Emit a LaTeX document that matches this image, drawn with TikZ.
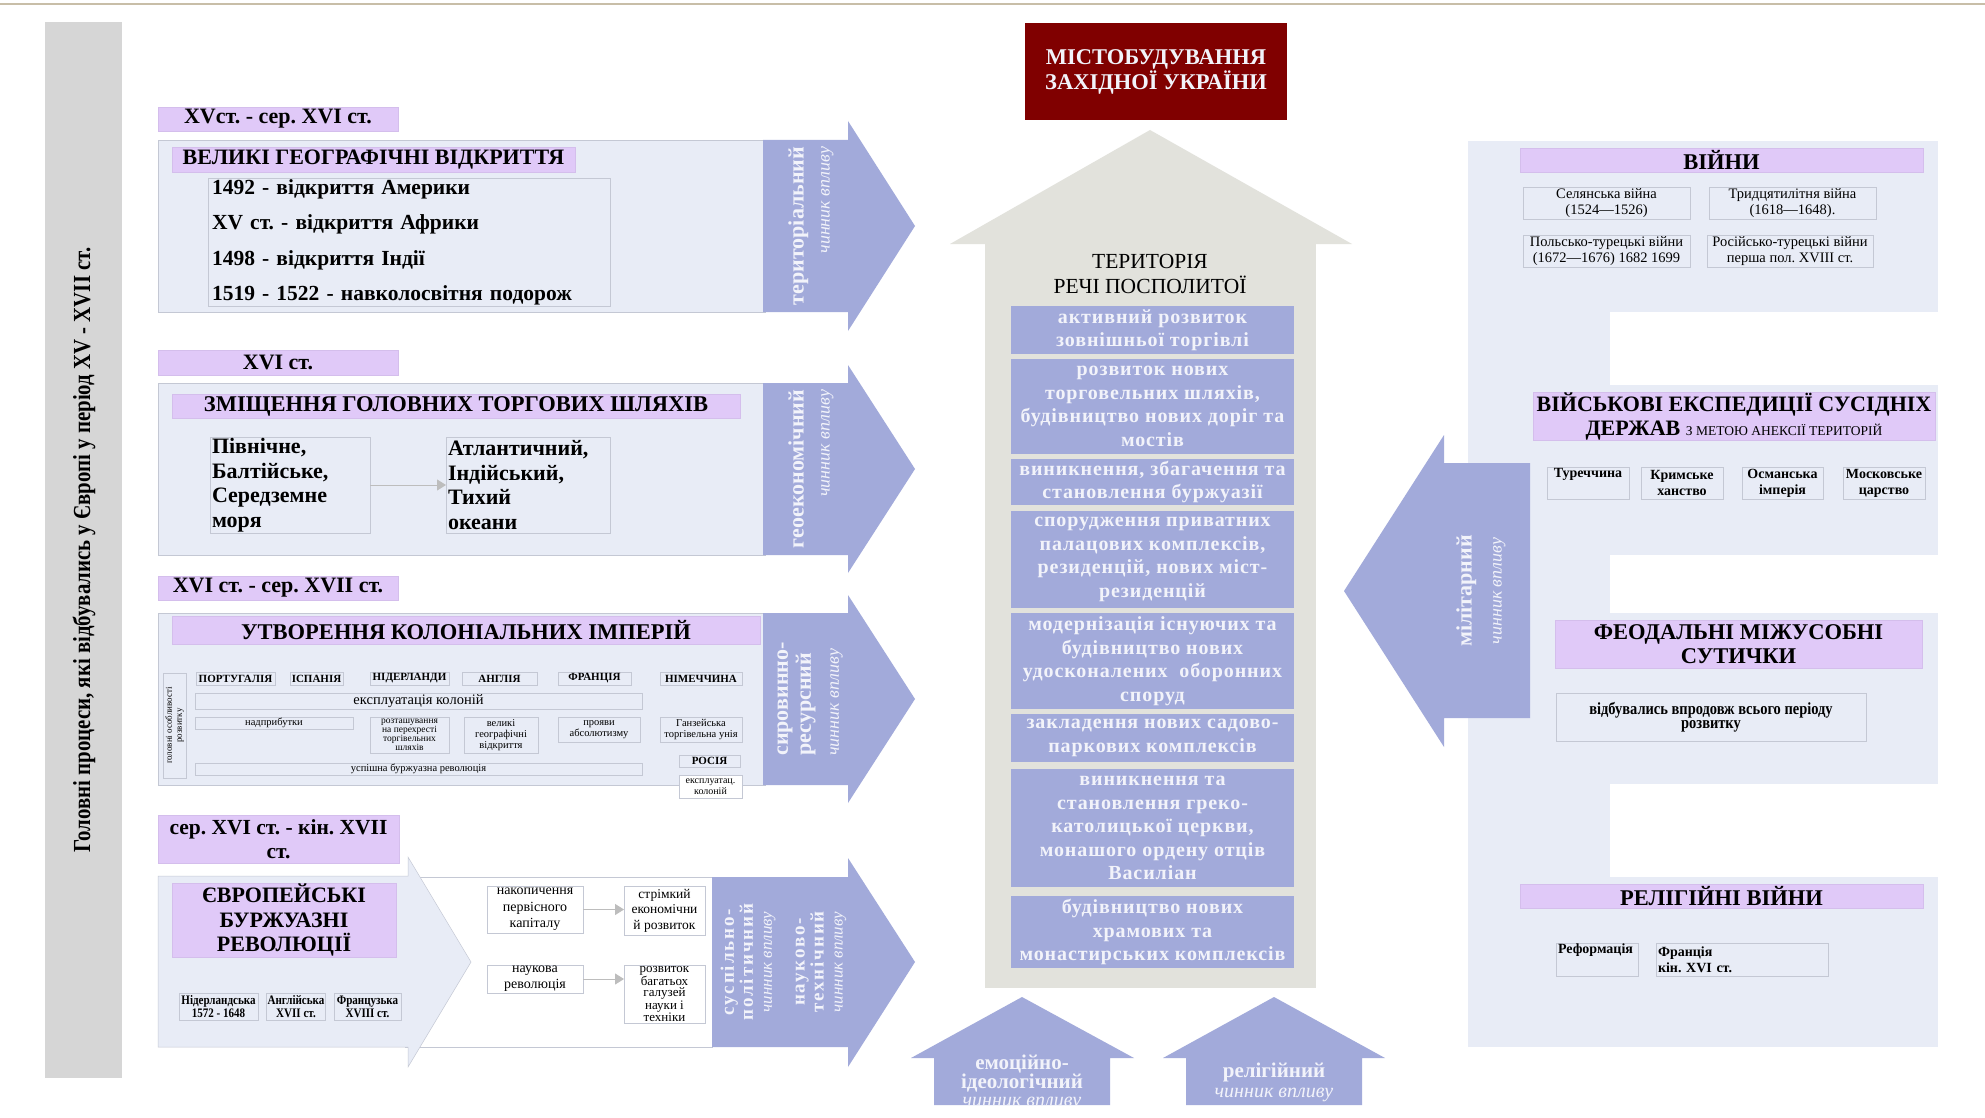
\documentclass[tikz,border=0pt]{standalone}
\usepackage{fontspec}
\setmainfont{Liberation Serif}
\newfontfamily\wideserif[LetterSpace=4.5]{Liberation Serif}
\newfontfamily\vwideserif[LetterSpace=10]{Liberation Serif}
\newfontfamily\narrowserif[FakeStretch=0.85]{Liberation Serif}
\usetikzlibrary{arrows.meta}
\definecolor{pale}{HTML}{E8ECF6}
\definecolor{lilac}{HTML}{E0C9F8}
\definecolor{lilacedge}{HTML}{D4BEEC}
\definecolor{peri}{HTML}{A2AADA}
\definecolor{barg}{HTML}{D6D6D6}
\definecolor{housec}{HTML}{E2E2DC}
\definecolor{wine}{HTML}{800000}
\definecolor{topl}{HTML}{C8BEA8}
\definecolor{edge}{HTML}{C4C8D4}
\definecolor{lighttxt}{HTML}{F2F3FA}
\definecolor{conn}{HTML}{BDBDBD}
\newcommand\fsz[2]{\fontsize{#1pt}{#2pt}\selectfont}
\newcommand\bx[6]{\node[#1, minimum width={(#4)-(#2)}, minimum height={(#5)-(#3)}] (#6) at ({((#2)+(#4))/2},{((#3)+(#5))/2})}
\frenchspacing
\begin{document}
\frenchspacing
\begin{tikzpicture}[x=1pt,y=-1pt,
  every node/.style={inner sep=0pt,outer sep=0pt},
  lab/.style={fill=lilac,draw=lilacedge,line width=0.5pt,align=center},
  cell/.style={draw=edge,line width=0.7pt,align=center,inner sep=1pt},
  cbox/.style={fill=peri,text=lighttxt,align=center,font=\wideserif\bfseries\fsz{20}{23.5}},
  factor/.style={rotate=90,text=lighttxt},
  conn/.style={draw=conn,line width=1pt,-{Triangle[length=9pt,width=11pt]}},
  panelfill/.style={fill=pale,draw=edge,line width=0.5pt},
  bigarrow/.style={fill=peri}
]
\useasboundingbox (0,0) rectangle (1985,1118);
\fill[white] (0,0) rectangle (1985,1118);
\draw[topl,line width=2pt] (0,4) -- (1985,4);

% left bar
\fill[barg] (45,22) rectangle (122,1078);
\node[rotate=90,font=\narrowserif\bfseries\fsz{24.5}{26}] (bartext) at (84,550) {Головні процеси, які відбувались у Європі у період XV - XVII ст.};

% ---------- section 1
\bx{lab,font=\bfseries\fsz{22}{24}}{158}{107}{398}{131}{per1} {XVст. - сер. XVI ст.};
\path[panelfill] (158,140) rectangle (765,312);
\bx{lab,font=\bfseries\fsz{22}{24}}{172}{147}{575}{172}{geo} {ВЕЛИКІ ГЕОГРАФІЧНІ ВІДКРИТТЯ};
\bx{cell,align=left,text width=394pt,font=\bfseries\fsz{21.5}{35.5}}{208}{180}{610}{305}{disc} {1492 - відкриття Америки\\XV ст. - відкриття Африки\\1498 - відкриття Індії\\1519 - 1522 - навколосвітня подорож};
\path[bigarrow] (763,140) -- (848,140) -- (848,121) -- (915,226) -- (848,331) -- (848,312) -- (763,312) -- cycle;
\node[factor,align=right,font=\fsz{18}{26}] (f1) at (811,226) {{\bfseries\fsz{22}{26}територіальний}\\{\itshape\fsz{18}{26}чинник впливу}};

% ---------- section 2
\bx{lab,font=\bfseries\fsz{22}{24}}{158}{350}{398}{375}{per2} {XVI ст.};
\path[panelfill] (158,383) rectangle (765,555);
\bx{lab,font=\bfseries\fsz{22.5}{24}}{172}{394}{740}{418}{trade} {ЗМІЩЕННЯ ГОЛОВНИХ ТОРГОВИХ ШЛЯХІВ};
\bx{cell,align=left,text width=156pt,font=\bfseries\fsz{22}{24.5}}{210}{437}{370}{533}{seaA} {Північне,\\Балтійське,\\Середземне\\моря};
\bx{cell,align=left,text width=160pt,font=\bfseries\fsz{22}{24.5}}{446}{437}{610}{533}{seaB} {Атлантичний,\\Індійський,\\Тихий\\океани};
\draw[conn] (seaA.east) -- (seaB.west);
\path[bigarrow] (763,383) -- (848,383) -- (848,365) -- (915,469) -- (848,573) -- (848,555) -- (763,555) -- cycle;
\node[factor,align=right,font=\fsz{18}{26}] (f2) at (811,469) {{\bfseries\fsz{22}{26}геоекономічний}\\{\itshape\fsz{18}{26}чинник впливу}};

% ---------- section 3
\bx{lab,font=\bfseries\fsz{22}{24}}{158}{576}{398}{600}{per3} {XVI ст. - сер. XVII ст.};
\path[panelfill] (158,613) rectangle (765,785);
\bx{lab,font=\bfseries\fsz{22.5}{24}}{172}{616}{760}{644}{colon} {УТВОРЕННЯ КОЛОНІАЛЬНИХ ІМПЕРІЙ};
\bx{cell}{163}{673}{186}{778}{featbox} {};
\node[rotate=90,align=center,font=\fsz{9}{10}] (feattxt) at (featbox.center) {головні особливості\\розвитку};
\bx{cell,font=\bfseries\fsz{11}{12}}{196}{672}{275}{685}{pt} {ПОРТУГАЛІЯ};
\bx{cell,font=\bfseries\fsz{11}{12}}{290}{672}{343}{685}{es} {ІСПАНІЯ};
\bx{cell,font=\bfseries\fsz{11}{12}}{370}{672}{449}{685}{nl} {НІДЕРЛАНДИ};
\bx{cell,font=\bfseries\fsz{11}{12}}{462}{672}{537}{685}{en} {АНГЛІЯ};
\bx{cell,font=\bfseries\fsz{11}{12}}{558}{672}{631}{685}{fr} {ФРАНЦІЯ};
\bx{cell,font=\bfseries\fsz{11}{12}}{660}{672}{742}{685}{de} {НІМЕЧЧИНА};
\bx{cell,font=\fsz{14.5}{16}}{195}{693}{642}{709}{expl} {експлуатація колоній};
\bx{cell,font=\fsz{10.5}{11}}{195}{717}{353}{729}{prof} {надприбутки};
\bx{cell,font=\fsz{9.5}{9}}{370}{717}{449}{753}{cross} {розташування\\на перехресті\\торгівельних\\шляхів};
\bx{cell,font=\fsz{10.5}{11}}{464}{717}{538}{753}{disco} {великі\\географічні\\відкриття};
\bx{cell,font=\fsz{10.5}{11}}{558}{717}{640}{742}{abs} {прояви\\абсолютизму};
\bx{cell,font=\fsz{10.5}{11}}{660}{717}{742}{742}{hansa} {Ганзейська\\торгівельна унія};
\bx{cell,font=\bfseries\fsz{11}{12}}{679}{755}{740}{767}{ru} {РОСІЯ};
\bx{cell,font=\fsz{10.5}{11}}{195}{763}{642}{775}{bourg} {успішна буржуазна революція};
\bx{cell,fill=white,font=\fsz{10}{11}}{679}{775}{742}{798}{rucol} {експлуатац.\\колоній};
\path[bigarrow] (763,613) -- (848,613) -- (848,595) -- (915,699) -- (848,803) -- (848,785) -- (763,785) -- cycle;
\node[factor,align=left,font=\fsz{18}{23}] (f3) at (810,699) {{\bfseries\fsz{22}{23}сировинно-}\\{\bfseries\fsz{22}{23}ресурсний}\\[5pt]{\itshape\fsz{18}{23}чинник впливу}};

% ---------- section 4
\bx{lab,font=\bfseries\fsz{21.5}{24}}{158}{815}{399}{863}{per4} {сер. XVI ст. - кін. XVII\\ст.};
\path[fill=white,draw=edge,line width=0.7pt] (405,877) rectangle (712,1047);
\path[panelfill] (158,876) -- (408,876) -- (408,857) -- (471,962) -- (408,1067) -- (408,1047) -- (158,1047) -- cycle;
\bx{lab,font=\bfseries\fsz{22}{24.5}}{172}{883}{396}{957}{rev} {ЄВРОПЕЙСЬКІ\\БУРЖУАЗНІ\\РЕВОЛЮЦІЇ};
\bx{cell,font=\narrowserif\bfseries\fsz{13}{13}}{179}{993}{258}{1020}{rnl} {Нідерландська\\1572 - 1648};
\bx{cell,font=\narrowserif\bfseries\fsz{13}{13}}{267}{993}{325}{1020}{ren} {Англійська\\XVII ст.};
\bx{cell,font=\narrowserif\bfseries\fsz{13}{13}}{334}{993}{401}{1020}{rfr} {Французька\\XVIII ст.};
\bx{cell,font=\fsz{14}{16.5}}{487}{886}{583}{933}{acc} {накопичення\\первісного\\капіталу};
\bx{cell,font=\fsz{13.5}{15.5}}{624}{886}{705}{935}{fast} {стрімкий\\економічни\\й розвиток};
\bx{cell,font=\fsz{14}{16}}{487}{965}{583}{993}{sci} {наукова\\революція};
\bx{cell,font=\fsz{13}{11}}{624}{965}{705}{1023}{dev} {розвиток\\багатьох\\галузей\\науки і\\техніки};
\draw[conn] (acc.east) -- (acc.east -| fast.west);
\draw[conn] (sci.east) -- (sci.east -| dev.west);
\path[bigarrow] (712,877) -- (848,877) -- (848,858) -- (915,962) -- (848,1067) -- (848,1047) -- (712,1047) -- cycle;
\node[factor,align=center,font=\fsz{17}{19}] (f4a) at (748,962) {{\vwideserif\bfseries\fsz{19}{19}суспільно-}\\{\vwideserif\bfseries\fsz{19}{19}політичний}\\{\itshape\fsz{17}{19}чинник впливу}};
\node[factor,align=center,font=\fsz{17}{19}] (f4b) at (821,962) {{\vwideserif\bfseries\fsz{19}{19}науково-}\\{\vwideserif\bfseries\fsz{19}{19}технічний}\\{\itshape\fsz{17}{19}чинник впливу}};

% ---------- centre
\bx{fill=wine,text=lighttxt,align=center,font=\bfseries\fsz{22.5}{25}}{1025}{23}{1287}{120}{title} {МІСТОБУДУВАННЯ\\ЗАХІДНОЇ УКРАЇНИ};
\fill[housec] (950,244) -- (1150,130) -- (1352,244) -- cycle;
\fill[housec] (985,243) rectangle (1316,988);
\node[align=center,font=\fsz{21.5}{25}] (terr) at (1150,274) {ТЕРИТОРІЯ\\РЕЧІ ПОСПОЛИТОЇ};
\bx{cbox}{1011}{306}{1294}{354}{c1} {активний розвиток\\зовнішньої торгівлі};
\bx{cbox}{1011}{359}{1294}{454}{c2} {розвиток нових\\торговельних шляхів,\\будівництво нових доріг та\\мостів};
\bx{cbox}{1011}{459}{1294}{505}{c3} {виникнення, збагачення та\\становлення буржуазії};
\bx{cbox}{1011}{511}{1294}{608}{c4} {спорудження приватних\\палацових комплексів,\\резиденцій, нових міст-\\резиденцій};
\bx{cbox}{1011}{613}{1294}{709}{c5} {модернізація існуючих та\\будівництво нових\\удосконалених\ \ оборонних\\споруд};
\bx{cbox}{1011}{714}{1294}{762}{c6} {закладення нових садово-\\паркових комплексів};
\bx{cbox}{1011}{769}{1294}{887}{c7} {виникнення та\\становлення греко-\\католицької церкви,\\монашого ордену отців\\Василіан};
\bx{cbox}{1011}{896}{1294}{968}{c8} {будівництво нових\\храмових та\\монастирських комплексів};

% bottom arrows
\path[bigarrow] (934,1105) -- (934,1058) -- (911,1058) -- (1022,997) -- (1134,1058) -- (1110,1058) -- (1110,1105) -- cycle;
\begin{scope}
\clip (934,1105) -- (934,1058) -- (911,1058) -- (1022,997) -- (1134,1058) -- (1110,1058) -- (1110,1105) -- cycle;
\node[align=center,text=lighttxt,font=\fsz{20}{18}] (emo) at (1022,1083) {{\bfseries\fsz{21}{18}емоційно-}\\{\bfseries\fsz{21}{18}ідеологічний}\\{\itshape\fsz{20}{18}чинник впливу}};
\end{scope}
\path[bigarrow] (1186,1105) -- (1186,1058) -- (1163,1058) -- (1274,997) -- (1385,1058) -- (1362,1058) -- (1362,1105) -- cycle;
\node[align=center,text=lighttxt,font=\fsz{20}{20}] (rel) at (1274,1082) {{\bfseries\fsz{21}{20}релігійний}\\{\itshape\fsz{20}{20}чинник впливу}};

% ---------- right side
\fill[pale] (1468,141) rectangle (1610,1047);
\fill[pale] (1468,141) rectangle (1938,312);
\fill[pale] (1468,385) rectangle (1938,555);
\fill[pale] (1468,613) rectangle (1938,784);
\fill[pale] (1468,877) rectangle (1938,1047);
\bx{lab,font=\bfseries\fsz{22.5}{24}}{1520}{148}{1923}{172}{wars} {ВІЙНИ};
\bx{cell,font=\fsz{14.5}{16}}{1523}{187}{1690}{219}{w1} {Селянська війна\\(1524—1526)};
\bx{cell,font=\fsz{14.5}{16}}{1709}{187}{1876}{219}{w2} {Тридцятилітня війна\\(1618—1648).};
\bx{cell,font=\fsz{14.5}{16}}{1523}{235}{1690}{267}{w3} {Польсько-турецькі війни\\(1672—1676) 1682 1699};
\bx{cell,font=\fsz{14.5}{16}}{1707}{235}{1873}{267}{w4} {Російсько-турецькі війни\\перша пол. XVIII ст.};
\bx{lab,font=\bfseries\fsz{22}{24}}{1533}{392}{1935}{440}{exped} {ВІЙСЬКОВІ ЕКСПЕДИЦІЇ СУСІДНІХ\\ДЕРЖАВ {\mdseries\fsz{13.5}{24}З МЕТОЮ АНЕКСІЇ ТЕРИТОРІЙ}};
\bx{cell,font=\bfseries\fsz{14}{16}}{1547}{467}{1629}{499}{tr} {Туреччина\\\strut};
\bx{cell,font=\bfseries\fsz{14}{16}}{1641}{467}{1723}{499}{cr} {Кримське\\ханство};
\bx{cell,font=\bfseries\fsz{14}{16}}{1742}{467}{1823}{499}{ot} {Османська\\імперія};
\bx{cell,font=\bfseries\fsz{14}{16}}{1843}{467}{1925}{499}{ms} {Московське\\царство};
\bx{lab,font=\bfseries\fsz{22.5}{24}}{1555}{620}{1922}{668}{feud} {ФЕОДАЛЬНІ МІЖУСОБНІ\\СУТИЧКИ};
\bx{cell,font=\narrowserif\bfseries\fsz{17}{13.5}}{1556}{693}{1866}{741}{feudtxt} {відбувались впродовж всього періоду\\розвитку};
\bx{lab,font=\bfseries\fsz{22.5}{24}}{1520}{884}{1923}{908}{relw} {РЕЛІГІЙНІ ВІЙНИ};
\bx{cell,align=left,text width=78pt,font=\bfseries\fsz{14}{16}}{1556}{943}{1638}{976}{refm} {Реформація\\\strut};
\bx{cell,align=left,text width=168pt,font=\bfseries\fsz{14}{16}}{1656}{943}{1828}{976}{frw} {Франція\\кін. XVI ст.};
\path[bigarrow] (1530,463) -- (1444,463) -- (1444,435) -- (1344,591) -- (1444,747) -- (1444,718) -- (1530,718) -- cycle;
\node[factor,align=center,font=\fsz{18}{30}] (f5) at (1481,591) {{\bfseries\fsz{22}{30}мілітарний}\\{\itshape\fsz{18}{30}чинник впливу}};
\end{tikzpicture}
\end{document}
